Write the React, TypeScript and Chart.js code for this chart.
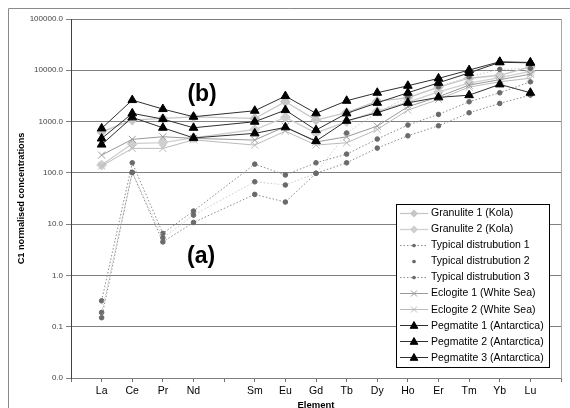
import React, { useEffect, useRef } from 'react';
import { Chart, registerables } from 'chart.js';

Chart.register(...registerables);

// Categories (blank slots at both ends and for Pm, as in the original axis)
const elements = ['', 'La', 'Ce', 'Pr', 'Nd', '', 'Sm', 'Eu', 'Gd', 'Tb', 'Dy', 'Ho', 'Er', 'Tm', 'Yb', 'Lu', ''];

const granulite1 = [null, 630, 1070, 1150, 1240, null, 1150, 2430, 1070, 1500, 2500, 2900, 4700, 7000, 8000, 11600, null];
const granulite2 = [null, 142, 370, 390, 480, null, 700, 1208, 600, 1000, 1600, 2400, 3800, 5600, 7200, 9500, null];
const typical1 = [null, 0.32, 157, 6.6, 18, null, 148, 91, 157, 232, 456, 855, 1380, 2432, 3645, 5970, null];
const typical2 = [null, 0.19, 102, 5.4, 15, null, 67, 58, 98, 600, 1500, 3000, 4770, 7460, 10420, 10900, null];
const typical3 = [null, 0.15, 102, 4.5, 10.8, null, 38, 27, 98, 157, 304, 528, 828, 1486, 2259, 3285, null];
const eclogite1 = [null, 222, 450, 506, 470, null, 436, 800, 400, 506, 817, 1945, 3040, 5150, 6560, 8400, null];
const eclogite2 = [null, 136, 300, 300, 440, null, 348, 650, 348, 386, 700, 1675, 2700, 4700, 5970, 7000, null];
const pegmatite1 = [null, 736, 2625, 1753, 1241, null, 1625, 3140, 1445, 2542, 3645, 4990, 6950, 10100, 14650, 14200, null];
const pegmatite2 = [null, 467, 1445, 1119, 757, null, 993, 1675, 683, 1445, 2323, 3645, 5700, 8900, 14300, 14000, null];
const pegmatite3 = [null, 356, 1208, 757, 480, null, 589, 771, 417, 1037, 1486, 2323, 2965, 3270, 5310, 3645, null];

const seriesNames = [
  'Granulite 1 (Kola)',
  'Granulite 2 (Kola)',
  'Typical distrubution 1',
  'Typical distrubution 2',
  'Typical distrubution 3',
  'Eclogite 1 (White Sea)',
  'Eclogite 2 (White Sea)',
  'Pegmatite 1 (Antarctica)',
  'Pegmatite 2 (Antarctica)',
  'Pegmatite 3 (Antarctica)',
];

const yTickValues = [0.01, 0.1, 1, 10, 100, 1000, 10000, 100000];

const annotationTexts = ['(b)', '(a)'];
const annotationX = [4.28, 4.25];
const annotationY = [3300, 2.3];

const FONT = '"Liberation Sans", Arial, Helvetica, sans-serif';

function drawMarker(ctx: CanvasRenderingContext2D, style: string, x: number, y: number, r: number, fill: string, stroke: string) {
  ctx.save();
  ctx.fillStyle = fill;
  ctx.strokeStyle = stroke;
  ctx.lineWidth = 1;
  ctx.setLineDash([]);
  ctx.beginPath();
  if (style === 'triangle') {
    ctx.moveTo(x, y - r);
    ctx.lineTo(x + r * 0.95, y + r * 0.7);
    ctx.lineTo(x - r * 0.95, y + r * 0.7);
    ctx.closePath();
    ctx.fill();
    ctx.stroke();
  } else if (style === 'rectRot') {
    ctx.moveTo(x, y - r);
    ctx.lineTo(x + r, y);
    ctx.lineTo(x, y + r);
    ctx.lineTo(x - r, y);
    ctx.closePath();
    ctx.fill();
    ctx.stroke();
  } else if (style === 'crossRot') {
    const d = r * 0.75;
    ctx.moveTo(x - d, y - d);
    ctx.lineTo(x + d, y + d);
    ctx.moveTo(x + d, y - d);
    ctx.lineTo(x - d, y + d);
    ctx.stroke();
  } else {
    ctx.arc(x, y, r, 0, Math.PI * 2);
    ctx.fill();
  }
  ctx.restore();
}

const decorPlugin = {
  id: 'decor',
  beforeDraw(chart: any) {
    const ctx: CanvasRenderingContext2D = chart.ctx;
    ctx.save();
    ctx.fillStyle = '#ffffff';
    ctx.fillRect(0, 0, chart.width, chart.height);
    ctx.strokeStyle = '#8a8a8a';
    ctx.lineWidth = 1;
    ctx.beginPath();
    ctx.moveTo(8.5, chart.height);
    ctx.lineTo(8.5, 8.5);
    ctx.lineTo(chart.width, 8.5);
    ctx.stroke();
    ctx.restore();
  },
  afterDraw(chart: any) {
    const ctx: CanvasRenderingContext2D = chart.ctx;
    const area = chart.chartArea;
    const xs = chart.scales.x;
    const ys = chart.scales.y;
    ctx.save();
    // right border of plot area
    ctx.strokeStyle = '#a8a8a8';
    ctx.lineWidth = 1;
    ctx.beginPath();
    ctx.moveTo(Math.round(area.right) + 0.5, area.top);
    ctx.lineTo(Math.round(area.right) + 0.5, area.bottom);
    ctx.stroke();

    // annotations
    ctx.fillStyle = '#000';
    ctx.font = `bold 23px ${FONT}`;
    ctx.textAlign = 'center';
    ctx.textBaseline = 'middle';
    annotationTexts.forEach((t, i) => {
      ctx.fillText(t, xs.getPixelForValue(annotationX[i]), ys.getPixelForValue(annotationY[i]));
    });

    // axis titles
    ctx.font = `bold 9.2px ${FONT}`;
    ctx.save();
    ctx.translate(21, (area.top + area.bottom) / 2);
    ctx.rotate(-Math.PI / 2);
    ctx.textAlign = 'center';
    ctx.textBaseline = 'middle';
    ctx.fillText('C1 normalised concentrations', 0, 0);
    ctx.restore();
    ctx.font = `bold 9.5px ${FONT}`;
    ctx.textAlign = 'center';
    ctx.textBaseline = 'top';
    ctx.fillText('Element', (area.left + area.right) / 2, 401);

    // legend
    const lx = 396, ly = 204, lw = 153, lh = 163;
    ctx.fillStyle = '#ffffff';
    ctx.fillRect(lx, ly, lw, lh);
    ctx.strokeStyle = '#000';
    ctx.strokeRect(lx + 0.5, ly + 0.5, lw, lh);
    const rowH = 16.07;
    chart.data.datasets.forEach((ds: any, i: number) => {
      const cy = ly + 8.7 + i * rowH;
      if (ds.legendLine) {
        ctx.save();
        ctx.strokeStyle = ds.borderColor;
        ctx.lineWidth = ds.borderWidth || 1;
        ctx.setLineDash(ds.borderDash || []);
        ctx.beginPath();
        ctx.moveTo(400, Math.round(cy) + 0.5);
        ctx.lineTo(428, Math.round(cy) + 0.5);
        ctx.stroke();
        ctx.restore();
      }
      drawMarker(ctx, ds.pointStyle, 414, Math.round(cy) + 0.5, ds.pointRadius * 0.8, ds.pointBackgroundColor, ds.pointBorderColor);
      ctx.fillStyle = '#000';
      ctx.font = `10.5px ${FONT}`;
      ctx.textAlign = 'left';
      ctx.textBaseline = 'middle';
      ctx.fillText(ds.label, 431, cy + 0.5);
    });
    ctx.restore();
  },
};

export default function App() {
  const canvasRef = useRef<HTMLCanvasElement | null>(null);

  useEffect(() => {
    if (!canvasRef.current) return;
    const gran = (label: string, data: any[], color: string) => ({
      label, data, borderColor: color, borderWidth: 1.3, pointStyle: 'rectRot', pointRadius: 4.5,
      pointBackgroundColor: color, pointBorderColor: color, legendLine: true,
    });
    const typ = (label: string, data: any[], line: string, legendLine: boolean) => ({
      label, data, borderColor: line, borderWidth: 1, borderDash: [1.5, 2], pointStyle: 'circle', pointRadius: 2.3,
      pointBackgroundColor: '#6a6a6a', pointBorderColor: '#6a6a6a', legendLine,
    });
    const ecl = (label: string, data: any[], color: string) => ({
      label, data, borderColor: color, borderWidth: 1, pointStyle: 'crossRot', pointRadius: 5,
      pointBackgroundColor: color, pointBorderColor: color, pointBorderWidth: 1, legendLine: true,
    });
    const peg = (label: string, data: any[]) => ({
      label, data, borderColor: '#303030', borderWidth: 1, pointStyle: 'triangle', pointRadius: 5,
      pointBackgroundColor: '#000', pointBorderColor: '#000', legendLine: true,
    });
    const datasets: any[] = [
      gran(seriesNames[0], granulite1, '#c6c6c6'),
      gran(seriesNames[1], granulite2, '#cfcfcf'),
      typ(seriesNames[2], typical1, '#8c8c8c', true),
      typ(seriesNames[3], typical2, '#cccccc', false),
      typ(seriesNames[4], typical3, '#8c8c8c', true),
      ecl(seriesNames[5], eclogite1, '#999999'),
      ecl(seriesNames[6], eclogite2, '#bbbbbb'),
      peg(seriesNames[7], pegmatite1),
      peg(seriesNames[8], pegmatite2),
      peg(seriesNames[9], pegmatite3),
    ].map((d, i) => ({ ...d, spanGaps: true, fill: false, tension: 0, order: 20 - i }));

    const chart = new Chart(canvasRef.current, {
      type: 'line',
      data: { labels: elements, datasets },
      options: {
        responsive: false,
        animation: false,
        devicePixelRatio: 1,
        layout: { padding: { left: 0, top: 19, right: 9, bottom: 0 } },
        plugins: { legend: { display: false }, tooltip: { enabled: false } },
        scales: {
          x: {
            type: 'category',
            offset: false,
            grid: { display: true, drawOnChartArea: false, drawTicks: true, tickLength: 4, color: '#707070' },
            border: { color: '#808080' },
            ticks: { autoSkip: false, maxRotation: 0, minRotation: 0, padding: 3, color: '#000', font: { size: 10.5, family: FONT } },
            afterFit: (s: any) => { s.height = 30; },
          },
          y: {
            type: 'logarithmic',
            min: 0.01,
            max: 100000,
            grid: { color: '#808080', tickLength: 5 },
            border: { color: '#404040' },
            ticks: {
              padding: 3,
              color: '#444',
              font: { size: 8, family: FONT },
              callback: (v: any) => Number(v).toFixed(1),
            },
            afterBuildTicks: (s: any) => { s.ticks = yTickValues.map((v) => ({ value: v })); },
            afterFit: (s: any) => { s.width = 71; },
          },
        },
      } as any,
      plugins: [decorPlugin],
    });
    return () => chart.destroy();
  }, []);

  return (
    <div style={{ position: 'absolute', left: 0, top: 0, width: 570, height: 408, overflow: 'hidden' }}>
      <canvas ref={canvasRef} width={570} height={408} style={{ display: 'block' }} />
    </div>
  );
}
